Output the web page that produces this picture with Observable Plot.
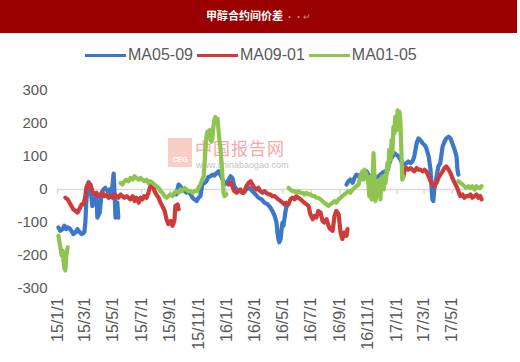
<!DOCTYPE html>
<html><head><meta charset="utf-8">
<script src="https://cdn.jsdelivr.net/npm/d3@7"></script>
<script src="https://cdn.jsdelivr.net/npm/@observablehq/plot@0.6"></script>
<style>
body{margin:0;background:#fff;}
#wrap{position:relative;width:520px;height:362px;overflow:hidden;font-family:"Liberation Sans",Arial,sans-serif;background:#fff;}
#title{position:absolute;left:0;top:0;width:517px;height:33px;background:#9a0000;color:#fff;text-align:center;line-height:31px;font-family:"Noto Sans CJK SC";font-weight:bold;font-size:11px;}
#title span{color:#cf8a8a;font-weight:normal;font-size:9px;}
#legend{position:absolute;left:85px;top:45px;height:20px;display:flex;align-items:center;font-size:16px;color:#595959;white-space:nowrap;}
.sw{display:inline-block;width:41px;height:3px;margin-right:2px;}
.lab{margin-right:4px;}
#logo{position:absolute;left:168px;top:138px;width:24px;height:29px;background:#f7cfc6;color:#fff;font-size:7px;font-weight:bold;text-align:center;line-height:10px;}
#logo div{position:absolute;bottom:2px;width:100%;}
#wmcn{position:absolute;left:195px;top:139px;font-family:"Noto Sans CJK SC";font-size:17px;line-height:17px;height:17px;letter-spacing:1px;color:#f3a9a9;white-space:nowrap;}
#wmurl{position:absolute;left:196px;top:161px;font-size:9px;line-height:9px;height:9px;color:#c4c4c4;white-space:nowrap;}
#chart{position:absolute;left:0;top:70px;}
</style></head>
<body>
<div id="wrap">
  <div id="title">甲醇合约间价差<span> ··↵</span></div>
  <div id="legend"></div>
  <div id="logo"><div>CEG</div></div>
  <div id="wmcn">中国报告网</div>
  <div id="wmurl">www.chinabaogao.com</div>
  <div id="chart"></div>
</div>
<script>
const seriesNames = ["MA05-09", "MA09-01", "MA01-05"];
const seriesColors = ["#3d77c7", "#cd3b3b", "#8ec44f"];
const xTickDates = ["15-01-01","15-03-01","15-05-01","15-07-01","15-09-01","15-11-01","16-01-01","16-03-01","16-05-01","16-07-01","16-09-01","16-11-01","17-01-01","17-03-01","17-05-01"];
const yTicks = [-300, -200, -100, 0, 100, 200, 300];

const ma0509 = [
["15-01-03",-115],["15-01-07",-125],["15-01-12",-120],["15-01-16",-110],["15-01-20",-120],["15-01-23",-115],
["15-01-27",-118],["15-01-31",-125],["15-02-04",-135],["15-02-09",-130],["15-02-13",-120],["15-02-17",-128],
["15-02-22",-135],["15-02-26",-132],["15-02-28",-128],["15-03-02",-100],["15-03-04",-40],["15-03-07",15],
["15-03-09",22],["15-03-13",5],["15-03-17",-50],["15-03-22",-30],["15-03-26",-20],["15-03-28",-85],
["15-04-02",-70],["15-04-06",-10],["15-04-10",0],["15-04-14",5],["15-04-19",-5],["15-04-23",0],
["15-04-27",-20],["15-04-30",20],["15-05-02",48],["15-05-04",-10],["15-05-06",-85],["15-05-08",-60],
["15-05-10",-40],["15-05-12",-85],
["15-07-01",null],
["15-09-14",-15],["15-09-19",15],["15-09-23",10],["15-09-27",0],["15-10-02",-5],["15-10-06",-10],
["15-10-10",-5],["15-10-15",-15],["15-10-19",-25],["15-10-23",-30],["15-10-28",-35],["15-11-01",-25],
["15-11-05",-20],["15-11-09",15],["15-11-14",20],["15-11-18",25],["15-11-22",38],["15-11-27",40],
["15-12-01",45],["15-12-05",42],["15-12-10",50],["15-12-14",55],["15-12-18",45],["15-12-23",30],
["15-12-27",15],["15-12-31",20],["16-01-05",30],["16-01-09",40],["16-01-13",35],["16-01-17",10],
["16-01-22",0],["16-01-26",-5],["16-01-30",-5],["16-02-06",-10],["16-02-12",0],["16-02-19",5],
["16-02-25",-5],["16-03-03",-15],["16-03-09",-25],["16-03-16",-30],["16-03-22",-40],["16-03-29",-45],
["16-04-04",-55],["16-04-08",-65],["16-04-13",-80],["16-04-17",-100],["16-04-19",-130],["16-04-21",-150],
["16-04-23",-160],["16-04-26",-150],["16-04-28",-120],["16-04-30",-100],["16-05-02",-110],["16-05-04",-90],
["16-05-06",-70],["16-05-08",-55],["16-05-11",-45],
["16-07-01",null],
["16-09-15",15],["16-09-19",25],["16-09-23",30],["16-09-28",20],["16-10-02",35],["16-10-06",45],
["16-10-11",40],["16-10-15",45],["16-10-19",40],["16-10-24",50],["16-10-28",55],["16-11-01",45],
["16-11-06",40],["16-11-10",35],["16-11-14",30],["16-11-18",35],["16-11-23",40],["16-11-27",45],
["16-12-01",50],["16-12-06",55],["16-12-10",50],["16-12-14",70],["16-12-19",90],["16-12-23",100],
["16-12-27",110],["17-01-01",105],["17-01-05",100],["17-01-09",90],["17-01-13",80],["17-01-18",75],
["17-01-22",80],["17-01-26",85],["17-01-31",80],["17-02-04",85],["17-02-08",100],["17-02-13",140],
["17-02-17",155],["17-02-21",150],["17-02-26",140],["17-03-02",135],["17-03-06",125],["17-03-11",100],
["17-03-15",60],["17-03-17",10],["17-03-19",-30],["17-03-21",-35],["17-03-23",0],["17-03-28",40],
["17-04-01",70],["17-04-05",80],["17-04-10",130],["17-04-14",145],["17-04-18",155],["17-04-23",160],
["17-04-27",155],["17-05-01",140],["17-05-06",120],["17-05-10",100],["17-05-12",60],["17-05-14",45]
];

const ma0901 = [
["15-01-18",-25],["15-01-23",-30],["15-01-27",-40],["15-01-31",-50],["15-02-04",-60],["15-02-09",-65],
["15-02-13",-70],["15-02-17",-60],["15-02-22",-45],["15-02-26",-45],["15-03-02",-20],["15-03-04",5],
["15-03-09",20],["15-03-13",15],["15-03-17",-5],["15-03-22",-15],["15-03-26",-10],["15-03-30",-20],
["15-04-04",-15],["15-04-08",-10],["15-04-12",-20],["15-04-17",-15],["15-04-21",-25],["15-04-25",-20],
["15-04-30",-25],["15-05-04",-15],["15-05-08",-20],["15-05-12",-25],["15-05-17",-15],["15-05-21",-20],
["15-05-25",-25],["15-05-30",-20],["15-06-03",-25],["15-06-07",-30],["15-06-12",-20],["15-06-16",-35],
["15-06-20",-25],["15-06-25",-40],["15-06-29",-25],["15-07-03",-30],["15-07-07",-20],["15-07-12",-25],
["15-07-16",-10],["15-07-20",10],["15-07-25",15],["15-07-29",-5],["15-08-02",-15],["15-08-07",-25],
["15-08-11",-40],["15-08-15",-50],["15-08-20",-65],["15-08-24",-90],["15-08-28",-105],["15-09-02",-95],
["15-09-06",-110],["15-09-10",-95],["15-09-12",-50],["15-09-17",-45],["15-09-19",-60],
["15-11-01",null],
["16-01-05",15],["16-01-09",20],["16-01-13",10],["16-01-17",-5],["16-01-22",-10],["16-01-26",-5],
["16-01-30",0],["16-02-04",-10],["16-02-08",-5],["16-02-12",10],["16-02-17",20],["16-02-21",25],
["16-02-25",15],["16-03-01",5],["16-03-05",0],["16-03-09",5],["16-03-13",-5],["16-03-18",-10],
["16-03-22",-5],["16-03-26",-10],["16-03-31",-15],["16-04-04",-15],["16-04-08",-20],["16-04-13",-20],
["16-04-17",-25],["16-04-21",-30],["16-04-26",-35],["16-04-30",-40],["16-05-04",-45],["16-05-08",-40],
["16-05-13",-45],["16-05-17",-30],["16-05-21",-25],["16-05-26",-30],["16-05-30",-20],["16-06-03",-25],
["16-06-08",-30],["16-06-12",-35],["16-06-16",-40],["16-06-21",-45],["16-06-25",-50],["16-06-29",-75],
["16-07-04",-90],["16-07-08",-80],["16-07-12",-85],["16-07-16",-65],["16-07-21",-70],["16-07-25",-95],
["16-07-29",-100],["16-08-03",-90],["16-08-07",-110],["16-08-11",-120],["16-08-16",-125],["16-08-20",-80],
["16-08-24",-65],["16-08-29",-75],["16-09-02",-130],["16-09-06",-150],["16-09-10",-130],["16-09-15",-140],
["16-09-17",-120],
["16-11-01",null],
["17-01-16",40],["17-01-18",60],["17-01-22",65],["17-01-26",60],["17-01-31",65],["17-02-04",60],
["17-02-08",55],["17-02-13",65],["17-02-17",60],["17-02-21",60],["17-02-26",55],["17-03-02",60],
["17-03-06",55],["17-03-11",40],["17-03-15",25],["17-03-19",15],["17-03-23",10],["17-03-28",20],
["17-04-01",35],["17-04-05",45],["17-04-10",55],["17-04-14",65],["17-04-18",70],["17-04-23",60],
["17-04-27",50],["17-05-01",35],["17-05-06",20],["17-05-10",10],["17-05-14",-5],["17-05-18",-20],
["17-05-23",-15],["17-05-27",-25],["17-05-31",-20],["17-06-05",-20],["17-06-09",-15],["17-06-13",-25],
["17-06-18",-20],["17-06-22",-15],["17-06-26",-25],["17-06-30",-20],["17-07-03",-30]
];

const ma0105 = [
["15-01-03",-140],["15-01-07",-175],["15-01-10",-200],["15-01-12",-185],["15-01-14",-215],["15-01-16",-240],
["15-01-18",-245],["15-01-20",-200],["15-01-23",-175],
["15-03-01",null],
["15-05-17",20],["15-05-21",15],["15-05-25",25],["15-05-30",30],["15-06-03",25],["15-06-07",35],
["15-06-12",30],["15-06-16",40],["15-06-20",35],["15-06-25",30],["15-06-29",35],["15-07-03",30],
["15-07-07",25],["15-07-12",30],["15-07-16",20],["15-07-20",25],["15-07-25",20],["15-07-29",15],
["15-08-02",10],["15-08-07",5],["15-08-11",-5],["15-08-15",-10],["15-08-20",-20],["15-08-24",-25],
["15-08-28",-20],["15-09-02",-15],["15-09-06",-20],["15-09-10",-10],["15-09-14",-5],["15-09-19",-10],
["15-09-23",0],["15-09-27",-5],["15-10-02",5],["15-10-06",0],["15-10-10",-5],["15-10-15",-5],
["15-10-19",-10],["15-10-23",-5],["15-10-28",-5],["15-11-01",5],["15-11-05",15],["15-11-09",30],
["15-11-12",40],["15-11-14",80],["15-11-16",120],["15-11-18",160],["15-11-20",175],["15-11-22",165],
["15-11-25",180],["15-11-27",150],["15-11-29",145],["15-12-01",155],["15-12-03",190],["15-12-05",210],
["15-12-07",220],["15-12-10",205],["15-12-12",215],["15-12-14",180],["15-12-16",150],["15-12-18",130],
["15-12-20",90],["15-12-23",30],["15-12-25",-10],["15-12-27",-20],["15-12-31",-15],
["16-03-01",null],
["16-05-13",5],["16-05-17",0],["16-05-21",-5],["16-05-26",-5],["16-05-30",-10],["16-06-03",-5],
["16-06-08",-10],["16-06-12",-10],["16-06-16",-15],["16-06-21",-10],["16-06-25",-15],["16-06-29",-15],
["16-07-04",-20],["16-07-08",-20],["16-07-12",-25],["16-07-16",-25],["16-07-21",-30],["16-07-25",-35],
["16-07-29",-40],["16-08-03",-45],["16-08-07",-50],["16-08-11",-45],["16-08-16",-40],["16-08-20",-35],
["16-08-24",-40],["16-08-29",-30],["16-09-02",-25],["16-09-06",-20],["16-09-10",-15],["16-09-15",-10],
["16-09-19",-5],["16-09-23",-10],["16-09-28",0],["16-10-02",5],["16-10-06",10],["16-10-11",15],
["16-10-15",40],["16-10-19",55],["16-10-21",30],["16-10-24",60],["16-10-28",45],["16-11-01",20],
["16-11-03",-20],["16-11-06",40],["16-11-08",-30],["16-11-10",10],["16-11-12",110],["16-11-14",50],
["16-11-16",-35],["16-11-18",-20],["16-11-21",20],["16-11-23",-10],["16-11-25",30],["16-11-27",-30],
["16-11-29",25],["16-12-01",40],["16-12-04",0],["16-12-06",35],["16-12-08",20],["16-12-10",45],
["16-12-12",80],["16-12-14",60],["16-12-16",120],["16-12-19",90],["16-12-21",150],["16-12-23",110],
["16-12-25",190],["16-12-27",170],["16-12-29",220],["17-01-01",180],["17-01-03",240],["17-01-05",200],
["17-01-07",235],["17-01-09",210],["17-01-11",120],["17-01-13",30],["17-01-16",40],
["17-03-01",null],
["17-05-14",25],["17-05-18",20],["17-05-23",15],["17-05-27",10],["17-05-31",5],["17-06-05",10],
["17-06-09",5],["17-06-13",10],["17-06-18",0],["17-06-22",10],["17-06-26",5],["17-06-30",5],
["17-07-03",10]
];

const seriesData = [ma0509, ma0901, ma0105];
const parse = d3.utcParse("%y-%m-%d");

// legend
const legend = document.getElementById("legend");
seriesNames.forEach((n, i) => {
  const sw = document.createElement("span");
  sw.className = "sw"; sw.style.background = seriesColors[i];
  const lab = document.createElement("span");
  lab.className = "lab"; lab.textContent = n;
  legend.appendChild(sw); legend.appendChild(lab);
});

const ticks = xTickDates.map(parse);
const fmt = d3.utcFormat("%y/%-m/%-d");

const lineMarks = seriesData.map((data, i) =>
  Plot.line(data, {x: d => parse(d[0]), y: d => d[1], stroke: seriesColors[i], strokeWidth: 4.2, curve: "linear"})
);

const chart = Plot.plot({
  width: 520, height: 292,
  marginTop: 20, marginBottom: 74, marginLeft: 57, marginRight: 38,
  style: {fontFamily: "'Liberation Sans', Arial, sans-serif", fontSize: "15px", color: "#595959", background: "transparent", overflow: "visible"},
  x: {type: "utc", domain: [parse("15-01-01"), parse("17-07-05")]},
  y: {domain: [-300, 300]},
  marks: [
    Plot.axisY({ticks: yTicks, tickSize: 0, tickPadding: 10, label: null, tickFormat: d => String(d), fontSize: 15, fill: "#595959"}),
    Plot.axisX({ticks: ticks, tickSize: 0, tickPadding: 9, tickRotate: -90, tickFormat: fmt, label: null, fontSize: 16, fill: "#595959"}),
    Plot.ruleY([0], {stroke: "#d9d9d9", strokeWidth: 1.5}),
    Plot.ruleX(ticks, {x: d => d, y1: 0, y2: -15, stroke: "#d9d9d9", strokeWidth: 1.5}),
    ...lineMarks
  ]
});
document.getElementById("chart").appendChild(chart);
</script>
</body></html>
